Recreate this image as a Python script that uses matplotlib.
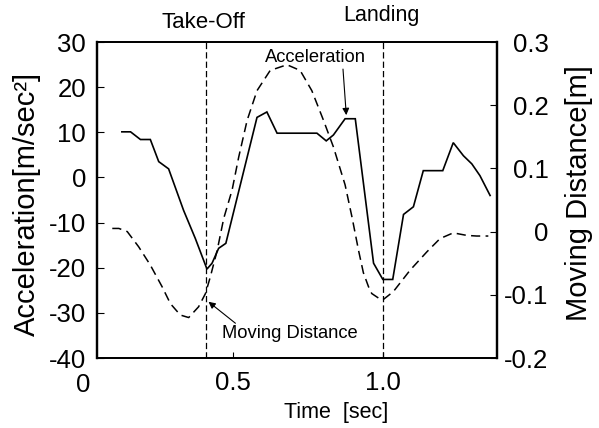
import matplotlib
matplotlib.use("Agg")
import matplotlib.pyplot as plt
import matplotlib.transforms as mtransforms

plt.rcParams['font.family'] = ['Liberation Sans', 'DejaVu Sans']
plt.rcParams['axes.unicode_minus'] = False

# Acceleration trace (left axis, m/sec^2)
acc_time = [0.128, 0.157, 0.19, 0.223, 0.251, 0.284, 0.334, 0.373, 0.412, 0.429,
            0.451, 0.475, 0.579, 0.612, 0.646, 0.779, 0.81, 0.834, 0.873, 0.907,
            0.968, 0.999, 1.032, 1.068, 1.101, 1.134, 1.199, 1.234, 1.268, 1.296,
            1.323, 1.357]
acc_value = [10.1, 10.1, 8.4, 8.4, 3.5, 1.9, -7.3, -13.5, -20.3, -19.0,
             -15.7, -14.6, 13.3, 14.5, 9.8, 9.8, 8.1, 9.4, 13.0, 13.0,
             -19.0, -22.6, -22.6, -8.2, -6.5, 1.5, 1.5, 7.7, 4.8, 3.0,
             0.4, -4.0]

# Moving distance trace (right axis, m)
dist_time = [0.096, 0.118, 0.146, 0.184, 0.223, 0.262, 0.29, 0.323, 0.351, 0.384,
             0.407, 0.423, 0.446, 0.468, 0.496, 0.518, 0.546, 0.579, 0.623, 0.679,
             0.723, 0.762, 0.801, 0.834, 0.873, 0.896, 0.918, 0.934, 0.951, 0.962,
             0.984, 0.999, 1.034, 1.09, 1.146, 1.19, 1.234, 1.279, 1.312, 1.351]
dist_value = [0.005, 0.005, 0.0, -0.024, -0.053, -0.087, -0.114, -0.132, -0.136, -0.119,
              -0.098, -0.072, -0.030, 0.021, 0.066, 0.118, 0.176, 0.223, 0.255, 0.264,
              0.255, 0.223, 0.176, 0.134, 0.074, 0.023, -0.030, -0.065, -0.087, -0.098,
              -0.105, -0.108, -0.095, -0.061, -0.032, -0.011, -0.002, -0.006, -0.007, -0.007]

event_time = {'Take-Off': 0.41, 'Landing': 1.0}

x_ticks = [0.5, 1.0]
x_ticklabels = ['0.5', '1.0']
acc_ticks = [-40, -30, -20, -10, 0, 10, 20, 30]
dist_ticks = [-0.2, -0.1, 0.0, 0.1, 0.2, 0.3]
dist_ticklabels = ['-0.2', '-0.1', '0', '0.1', '0.2', '0.3']

fig = plt.figure(figsize=(5.99, 4.28), dpi=100)
ax = fig.add_axes([97 / 599, 70 / 428, 400 / 599, 316 / 428])
ax2 = ax.twinx()

ax.plot(acc_time, acc_value, color='black', lw=1.2, solid_joinstyle='miter')
ax2.plot(dist_time, dist_value, color='black', lw=1.1, linestyle=(0, (6.0, 3.5)))

for name, t in event_time.items():
    ax.axvline(t, color='black', lw=0.9, linestyle=(0, (5, 2.5)))

ax.set_xlim(0.045, 1.38)
ax.set_ylim(-40, 30)
ax2.set_ylim(-0.2, 0.3)

ax.set_xticks(x_ticks)
ax.set_xticklabels(x_ticklabels)
ax.set_yticks(acc_ticks)
ax2.set_yticks(dist_ticks)
ax2.set_yticklabels(dist_ticklabels)

ax.tick_params(axis='x', direction='in', length=4, width=0.8, labelsize=18.5, pad=9)
ax.tick_params(axis='y', direction='in', length=5, width=0.8, labelsize=18.5, pad=8)
ax2.tick_params(axis='y', direction='in', length=5, width=0.8, labelsize=18.5, pad=37)
for lbl in ax2.get_yticklabels():
    lbl.set_horizontalalignment('right')

# origin label on the time axis
xlab_tr = mtransforms.blended_transform_factory(ax.transData, ax.transAxes)
ax.text(0.0, -0.048, '0', transform=xlab_tr, ha='center', va='top', fontsize=18.5)

for side in ['left', 'right']:
    ax.spines[side].set_linewidth(1.6)
    ax2.spines[side].set_linewidth(1.6)
for side in ['top', 'bottom']:
    ax.spines[side].set_linewidth(1.3)
    ax2.spines[side].set_linewidth(1.3)

# event labels above the frame
ax.text(event_time['Take-Off'] - 0.01, 1.063, 'Take-Off', transform=xlab_tr,
        ha='center', va='center', fontsize=16)
ax.text(event_time['Landing'] - 0.005, 1.085, 'Landing', transform=xlab_tr,
        ha='center', va='center', fontsize=15.5)

# curve annotations
ax.text(0.773, 26.6, 'Acceleration', ha='center', va='center', fontsize=13.2)
ax.annotate('', xy=(0.877, 13.8), xytext=(0.866, 24.0),
            arrowprops=dict(arrowstyle='-|>', color='black', lw=0.8,
                            mutation_scale=10, shrinkA=0, shrinkB=0))
ax2.text(0.463, -0.162, 'Moving Distance', ha='left', va='center', fontsize=13.2)
ax2.annotate('', xy=(0.417, -0.111), xytext=(0.507, -0.145),
             arrowprops=dict(arrowstyle='-|>', color='black', lw=0.8,
                             mutation_scale=10, shrinkA=0, shrinkB=0))

ax.text(0.598, -0.171, 'Time  [sec]', transform=ax.transAxes,
        ha='center', va='center', fontsize=15.5)
fig.text(27 / 599, 1 - 204 / 428, 'Acceleration[m/sec²]', rotation=90,
         ha='center', va='center', fontsize=21)
fig.text(579 / 599, 1 - 193 / 428, 'Moving Distance[m]', rotation=90,
         ha='center', va='center', fontsize=21)

fig.savefig('out.png', dpi=100)
